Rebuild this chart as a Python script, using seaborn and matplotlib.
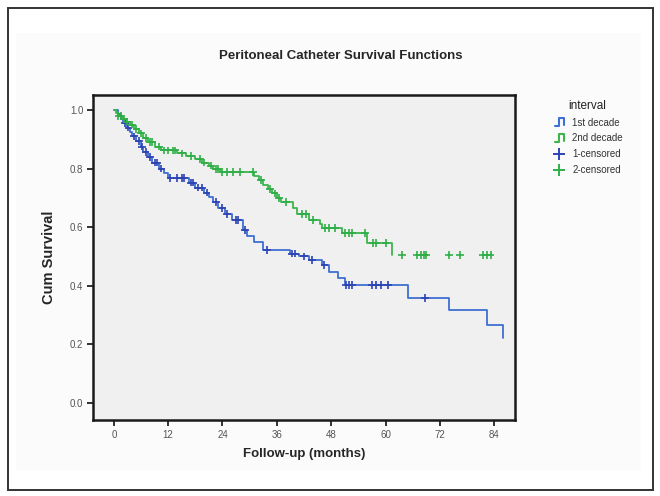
import numpy as np
import pandas as pd
import matplotlib
matplotlib.use("Agg")
import matplotlib.pyplot as plt
import seaborn as sns
from matplotlib.legend_handler import HandlerBase
from matplotlib.lines import Line2D
from matplotlib.patches import Rectangle

# ---------------- data ----------------
blue_times = [0, 1, 1.5, 2, 3, 3.5, 4, 5, 6, 6.5, 7.5, 8.5, 10, 11, 12, 16.5, 18, 20, 21,
              22, 23, 24.5, 26, 28.5, 29.5, 31, 33, 39, 41, 43, 46, 47.5, 49.5, 51, 65,
              74, 82.5, 86, 86]
blue_surv = [1.0, 0.985, 0.97, 0.955, 0.94, 0.925, 0.91, 0.895, 0.875, 0.857, 0.84, 0.82,
             0.80, 0.785, 0.768, 0.752, 0.735, 0.718, 0.703, 0.685, 0.665, 0.645, 0.625,
             0.59, 0.57, 0.55, 0.522, 0.51, 0.50, 0.488, 0.47, 0.447, 0.426, 0.403, 0.358,
             0.317, 0.266, 0.266, 0.222]
blue_cens = [2.5, 3.2, 4.5, 5.5, 6.2, 7, 8, 9, 9.5, 10.5, 12.5, 14, 15, 15.5, 17, 17.5,
             18.5, 19.5, 20.5, 22.5, 24, 25, 27, 27.5, 29, 33.8, 39.3, 40, 42, 43.8, 46.5,
             51.2, 52, 52.6, 57, 58, 59, 60.5, 68.7]

green_times = [0, 0.5, 1, 2, 2.5, 3.5, 4.5, 5.5, 6.5, 7.5, 9, 10.5, 14, 16, 18, 19.5, 21,
               22, 23.5, 31, 32, 33, 34, 35, 36, 37, 39.5, 40.5, 43, 45.5, 46, 50.5, 56,
               61.5]
green_surv = [1.0, 0.99, 0.98, 0.97, 0.96, 0.95, 0.935, 0.92, 0.905, 0.89, 0.875, 0.862,
              0.852, 0.842, 0.832, 0.82, 0.81, 0.798, 0.788, 0.775, 0.76, 0.745, 0.73,
              0.715, 0.70, 0.685, 0.665, 0.645, 0.625, 0.61, 0.597, 0.58, 0.546, 0.505]
green_cens = [1, 1.5, 2.2, 3, 4, 5, 6, 7, 8, 8.5, 10, 11, 12, 13, 13.5, 15, 17, 19, 20,
              21.5, 22.5, 23, 24, 25, 26.3, 27.8, 30.7, 32.5, 34.5, 35.5, 36.5, 38, 41.5,
              42.5, 44, 46.6, 47.5, 48.8, 51, 52, 52.6, 55.5, 57.2, 58, 60, 63.7, 67,
              67.8, 68.5, 69, 74, 76.5, 81.5, 82.5, 83.2]

x_ticks = [0, 12, 24, 36, 48, 60, 72, 84]
y_ticks = [0.0, 0.2, 0.4, 0.6, 0.8, 1.0]
series_names = ["1st decade", "2nd decade"]
censor_names = ["1-censored", "2-censored"]


def level_at(times, surv, t):
    idx = np.searchsorted(np.asarray(times), t, side="right") - 1
    return np.asarray(surv)[idx]


curves = pd.concat([
    pd.DataFrame({"t": blue_times, "S": blue_surv, "interval": series_names[0]}),
    pd.DataFrame({"t": green_times, "S": green_surv, "interval": series_names[1]}),
], ignore_index=True)

cens = pd.concat([
    pd.DataFrame({"t": blue_cens, "S": level_at(blue_times, blue_surv, blue_cens),
                  "interval": censor_names[0]}),
    pd.DataFrame({"t": green_cens, "S": level_at(green_times, green_surv, green_cens),
                  "interval": censor_names[1]}),
], ignore_index=True)

# ---------------- styling ----------------
sns.set_style("white")
plt.rcParams["font.family"] = ["Liberation Sans", "DejaVu Sans"]

line_colors = {series_names[0]: "#3f6fd2", series_names[1]: "#3db54c"}
mark_colors = {censor_names[0]: "#2c43b4", censor_names[1]: "#2fae48"}

fig = plt.figure(figsize=(6.6, 4.96), dpi=100)
fig.patch.set_facecolor("white")
fig.patches.append(Rectangle((8 / 660, 1 - 490 / 496), 645 / 660, 482 / 496,
                             transform=fig.transFigure, fill=False,
                             edgecolor="#333333", lw=1.4))
fig.patches.append(Rectangle((16 / 660, 1 - 470 / 496), 625 / 660, 437 / 496,
                             transform=fig.transFigure, facecolor="#fbfbfb",
                             edgecolor="none", zorder=-5))

ax = fig.add_axes([93 / 660, 1 - 420 / 496, (515 - 93) / 660, (420 - 95) / 496])
ax.set_facecolor("#f0f0f0")

sns.lineplot(data=curves, x="t", y="S", hue="interval", palette=line_colors,
             drawstyle="steps-post", estimator=None, sort=False, lw=1.3, ax=ax,
             legend=False)
sns.scatterplot(data=cens, x="t", y="S", hue="interval", palette=mark_colors,
                marker="+", s=30, linewidth=1.2, ax=ax, legend=False, zorder=3)

ax.set_xlim(-4.6, 88.6)
ax.set_ylim(-0.058, 1.051)
ax.set_xticks(x_ticks)
ax.set_xticklabels([str(v) for v in x_ticks])
ax.set_yticks(y_ticks)
ax.set_yticklabels([f"{v:.1f}" for v in y_ticks])
ax.tick_params(axis="both", direction="out", length=4, width=1.3, color="#222222",
               labelsize=7, labelcolor="#555555", pad=3, bottom=True, left=True)
for sp in ax.spines.values():
    sp.set_visible(True)
    sp.set_linewidth(1.8)
    sp.set_color("#1a1a1a")

ax.set_xlabel("Follow-up (months)", fontsize=9.5, fontweight="bold", labelpad=6)
ax.set_ylabel("Cum Survival", fontsize=10.5, fontweight="bold", labelpad=10)

fig.text(341 / 660, 1 - 56 / 496, "Peritoneal Catheter Survival Functions",
         ha="center", va="center", fontsize=9.5, fontweight="bold")


# ---------------- legend ----------------
class StepHandler(HandlerBase):
    def create_artists(self, legend, orig_handle, xdescent, ydescent, width, height,
                       fontsize, trans):
        x0, y0 = -xdescent, -ydescent - 0.1 * height
        w, h = width, height * 1.2
        xs = [x0 + 0.2 * w, x0 + 0.5 * w, x0 + 0.5 * w, x0 + 0.85 * w, x0 + 0.85 * w]
        ys = [y0, y0, y0 + h, y0 + h, y0 + 0.15 * h]
        return [Line2D(xs, ys, color=orig_handle.get_color(), lw=1.5, transform=trans)]


h_lines = [Line2D([], [], color=line_colors[n]) for n in series_names]
h_marks = [Line2D([], [], color=mark_colors[n], marker="+", ls="none", markersize=9,
                  markeredgewidth=1.4) for n in censor_names]
leg = fig.legend(h_lines + h_marks, series_names + censor_names,
                 title="interval", loc="upper left",
                 bbox_to_anchor=(545 / 660, 1 - 93 / 496), frameon=False,
                 fontsize=7, title_fontsize=8.5, handlelength=1.5, handletextpad=0.6,
                 labelspacing=0.6, borderpad=0.2,
                 handler_map={h_lines[0]: StepHandler(), h_lines[1]: StepHandler()})
for t in leg.get_texts():
    t.set_color("#333333")
leg.get_title().set_color("#222222")

fig.savefig("out.png", dpi=100, facecolor=fig.get_facecolor())
